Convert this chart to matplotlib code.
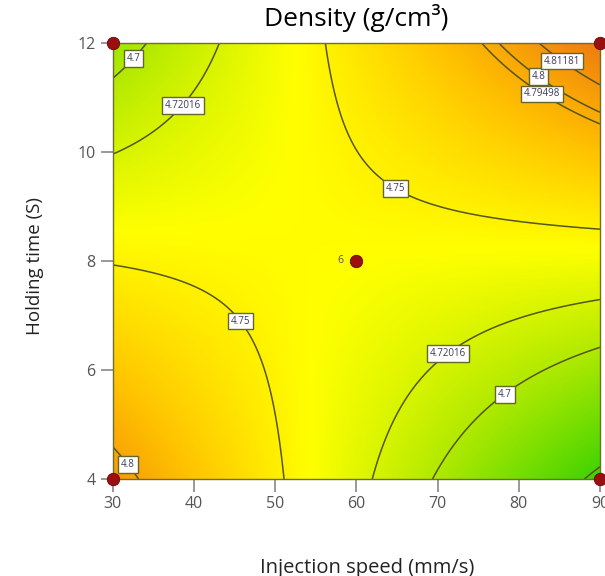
import numpy as np
import matplotlib
matplotlib.use('Agg')
import matplotlib.pyplot as plt
from matplotlib.colors import LinearSegmentedColormap

# contour crossings: speed (mm/s), time (s), level
read_speed = [34.2, 30.0, 69.5, 90.0, 78.0,
              43.0, 30.0, 38.1, 61.9, 71.1, 81.4,
              55.9, 59.2, 64.6, 77.7, 90.0, 30.0, 39.3, 45.9, 49.2, 50.4,
              75.4, 90.0,
              77.5, 90.0, 33.6, 30.0,
              82.6, 90.0,
              88.0, 90.0]
read_time = [12.0, 11.32, 4.0, 6.37, 5.61,
             12.0, 9.91, 10.92, 4.0, 6.33, 6.92,
             12.0, 10.31, 9.28, 8.72, 8.57, 7.82, 7.47, 6.92, 5.76, 4.0,
             12.0, 10.52,
             12.0, 10.74, 4.0, 4.69,
             12.0, 11.26,
             4.0, 4.23]
read_level = [4.7] * 5 + [4.72016] * 6 + [4.75] * 10 + [4.79498] * 2 + \
             [4.8] * 4 + [4.81181] * 2 + [4.65] * 2

plain_levels = [4.65]
main_levels = [4.7, 4.72016, 4.75, 4.8]
corner_levels = [4.79498, 4.81181]   # only drawn in the upper-right corner

design_speed = [30, 30, 90, 90, 60]
design_time = [4, 12, 4, 12, 8]
center_runs = '6'

x_ticks = [30, 40, 50, 60, 70, 80, 90]
y_ticks = [4, 6, 8, 10, 12]

plt.rcParams['font.family'] = ['Open Sans', 'DejaVu Sans']


def design_matrix(x, y):
    X = (np.asarray(x) - 60.0) / 30.0
    Y = (np.asarray(y) - 8.0) / 4.0
    return np.stack([np.ones_like(X), X, Y, X * Y, X ** 2, Y ** 2], axis=-1)


# quadratic response surface fitted to the read contour points
coef, *_ = np.linalg.lstsq(design_matrix(read_speed, read_time),
                           np.array(read_level), rcond=None)

xs = np.linspace(30, 90, 300)
ys = np.linspace(4, 12, 300)
gx, gy = np.meshgrid(xs, ys)
Z = design_matrix(gx, gy) @ coef
Z_corner = np.ma.masked_where(gx < 60, Z)

vmin, vmax = 4.645, 4.83
cmap = LinearSegmentedColormap.from_list(
    'de', [(0.0, '#3cd200'), (0.30, '#b2ea00'), (0.52, '#ffff00'),
           (0.75, '#ffc000'), (1.0, '#ee7a10')])

fig = plt.figure(figsize=(6.05, 5.76), dpi=100)
ax = fig.add_axes([0.1863, 0.1684, 0.8054, 0.7575])

ax.imshow(Z, origin='lower', extent=[30, 90, 4, 12], aspect='auto',
          cmap=cmap, vmin=vmin, vmax=vmax, interpolation='bilinear')
line_kw = dict(colors='#55551c', linewidths=1.1)
ax.contour(gx, gy, Z, levels=plain_levels, **line_kw)
cs_main = ax.contour(gx, gy, Z, levels=main_levels, **line_kw)
cs_corner = ax.contour(gx, gy, Z_corner, levels=corner_levels, **line_kw)

label_kw = dict(inline=False, fontsize=7, fmt=lambda v: f'{v:g}')
texts = ax.clabel(cs_main, manual=[(32.3, 11.75), (78.0, 5.61),
                                   (38.1, 10.92), (71.1, 6.33),
                                   (64.6, 9.28), (45.9, 6.92),
                                   (82.8, 11.45), (31.3, 4.19)], **label_kw)
texts += ax.clabel(cs_corner, manual=[(83.2, 11.13), (85.7, 11.74)],
                   **label_kw)
for t in texts:
    t.set_rotation(0)
    t.set_color('#3a3a5a')
    t.set_zorder(4)
    t.set_bbox(dict(boxstyle='square,pad=0.3', fc='white',
                    ec='#66662a', lw=1.0))

ax.scatter(design_speed, design_time, s=80, color='#9a0f0f',
           edgecolors='#6a0505', linewidths=0.6, zorder=5, clip_on=False)
ax.text(design_speed[-1] - 1.6, design_time[-1], center_runs, fontsize=7.5,
        color='#555555', ha='right', va='center')

ax.set_xlim(30, 90)
ax.set_ylim(4, 12)
ax.set_xticks(x_ticks)
ax.set_yticks(y_ticks)
ax.tick_params(direction='out', length=9, width=1.2, color='#888888',
               labelcolor='#555555', labelsize=11.5)
for s in ax.spines.values():
    s.set_color('#6e6e30')
    s.set_linewidth(1.0)

ax.set_title('Density (g/cm³)', fontsize=19, pad=12)
ax.set_xlabel('Injection speed (mm/s)', fontsize=14.5, color='#222222')
ax.xaxis.set_label_coords(0.522, -0.18)
ax.set_ylabel('Holding time (S)', fontsize=13.5, color='#222222')
ax.yaxis.set_label_coords(-0.14, 0.488)

fig.savefig('out.png', dpi=100)
